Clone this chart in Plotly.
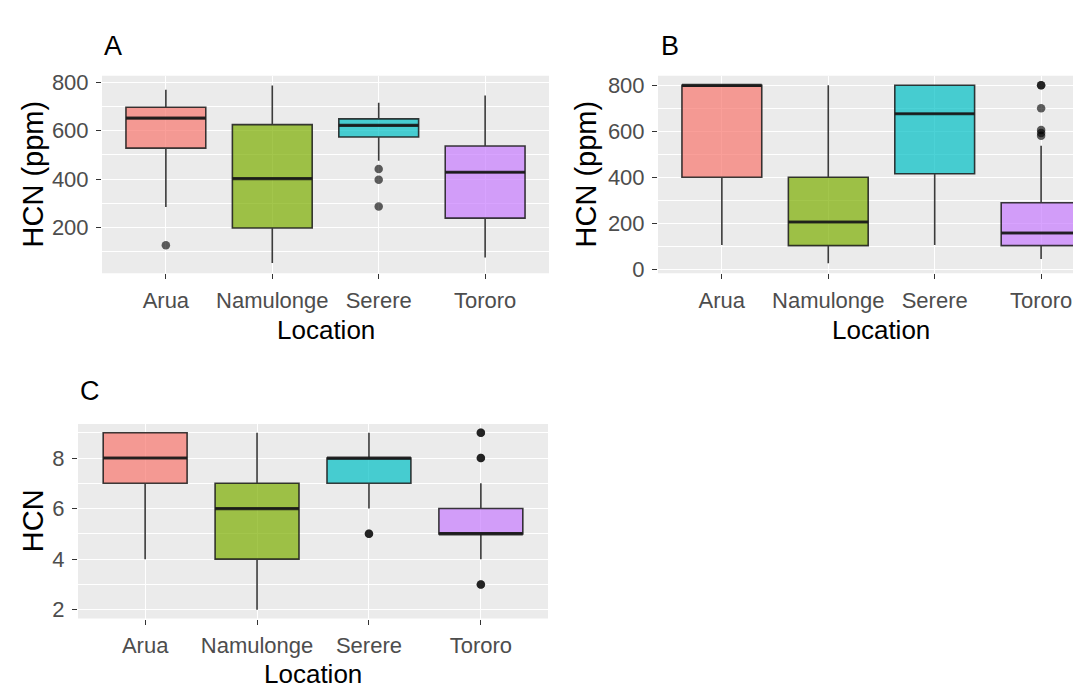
import plotly.graph_objects as go

locations = ["Arua", "Namulonge", "Serere", "Tororo"]
fills = ["rgba(248,118,109,0.7)", "rgba(124,174,0,0.7)", "rgba(0,191,196,0.7)", "rgba(199,124,255,0.7)"]

# Panel A : HCN (ppm)
a_low = [284, 52, 476, 75]
a_q1 = [528, 197, 574, 238]
a_med = [652, 402, 622, 428]
a_q3 = [697, 625, 649, 537]
a_high = [770, 787, 716, 746]
a_out = [[126], [], [441, 397, 286], []]

# Panel B : HCN (ppm)
b_low = [105, 25, 105, 44]
b_q1 = [400, 102, 415, 102]
b_med = [800, 205, 676, 157]
b_q3 = [800, 400, 800, 289]
b_high = [800, 800, 800, 537]
b_out = [[], [], [], [800, 800, 700, 605, 592, 580]]

# Panel C : HCN score
c_low = [4, 2, 6, 4]
c_q1 = [7, 4, 7, 5]
c_med = [8, 6, 8, 5]
c_q3 = [9, 7, 8, 6]
c_high = [9, 9, 9, 7]
c_out = [[], [], [5, 5], [9, 9, 8, 8, 3, 3]]

W, H = 1081, 689
FONT = "Liberation Sans, Arial, sans-serif"


def fx(px):
    return px / W


def fy(py):
    return 1 - py / H


panels = [
    dict(key="", low=a_low, q1=a_q1, med=a_med, q3=a_q3, high=a_high, out=a_out,
         xd=[94, 541], yd=[63, 265], yr=[10, 828], xr=[-0.6, 3.6],
         ticks=[200, 400, 600, 800], minor=100, ytitle="HCN (ppm)",
         letter="A", lx=94, ly=33, ytx=25, xtx=317.5, xty=323),
    dict(key="2", low=b_low, q1=b_q1, med=b_med, q3=b_q3, high=b_high, out=b_out,
         xd=[650, 1081], yd=[63, 265], yr=[-18, 842], xr=[-0.6, 3.45],
         ticks=[0, 200, 400, 600, 800], minor=100, ytitle="HCN (ppm)",
         letter="B", lx=651, ly=33, ytx=578, xtx=873, xty=323),
    dict(key="3", low=c_low, q1=c_q1, med=c_med, q3=c_q3, high=c_high, out=c_out,
         xd=[70, 540], yd=[419, 618], yr=[1.65, 9.35], xr=[-0.6, 3.6],
         ticks=[2, 4, 6, 8], minor=1, ytitle="HCN",
         letter="C", lx=70, ly=385, ytx=25, xtx=305, xty=675),
]

fig = go.Figure()
line_col = "rgba(25,25,25,0.85)"
bw = 0.75
annotations = []
layout = {}

for p in panels:
    k = p["key"]
    xa = "x" + k
    ya = "y" + k
    for i, loc in enumerate(locations):
        fig.add_trace(go.Box(
            x=[i], q1=[p["q1"][i]], median=[p["med"][i]], q3=[p["q3"][i]],
            lowerfence=[p["low"][i]], upperfence=[p["high"][i]],
            width=bw, whiskerwidth=0, fillcolor=fills[i],
            line=dict(color=line_col, width=1.6), boxpoints=False,
            xaxis=xa, yaxis=ya, showlegend=False, hoverinfo="skip"))
        fig.add_trace(go.Scatter(
            x=[i - bw / 2, i + bw / 2], y=[p["med"][i], p["med"][i]],
            mode="lines", line=dict(color=line_col, width=3.2),
            xaxis=xa, yaxis=ya, showlegend=False, hoverinfo="skip"))
        if p["out"][i]:
            fig.add_trace(go.Scatter(
                x=[i] * len(p["out"][i]), y=p["out"][i], mode="markers",
                marker=dict(color="rgba(0,0,0,0.62)", size=8.5, line=dict(width=0)),
                xaxis=xa, yaxis=ya, showlegend=False, hoverinfo="skip"))

    layout["xaxis" + k] = dict(
        domain=[fx(p["xd"][0]), fx(p["xd"][1])], anchor=ya, range=p["xr"],
        tickvals=[0, 1, 2, 3], ticktext=locations, showgrid=True,
        gridcolor="white", gridwidth=1.4, zeroline=False, ticks="outside",
        ticklen=5, tickwidth=1.2, tickcolor="#333333", ticklabelstandoff=2,
        tickfont=dict(family=FONT, size=22, color="#4D4D4D"),
        fixedrange=True)
    layout["yaxis" + k] = dict(
        domain=[fy(p["yd"][1]), fy(p["yd"][0])], anchor=xa, range=p["yr"],
        tickvals=p["ticks"], showgrid=True, gridcolor="white", gridwidth=1.4,
        zeroline=False, ticks="outside", ticklen=5, tickwidth=1.2, tickcolor="#333333",
        ticklabelstandoff=3,
        tickfont=dict(family=FONT, size=22, color="#4D4D4D"),
        minor=dict(dtick=p["minor"], tick0=0, showgrid=True, gridcolor="white", gridwidth=0.7),
        fixedrange=True)
    fig.add_shape(type="rect", xref="paper", yref="paper",
                  x0=fx(p["xd"][0]), x1=fx(p["xd"][1]), y0=fy(p["yd"][1]), y1=fy(p["yd"][0]),
                  fillcolor="#EBEBEB", line=dict(width=0), layer="below")
    annotations.append(dict(text=p["letter"], x=fx(p["lx"]), y=fy(p["ly"]), xref="paper", yref="paper",
                            xanchor="left", yanchor="middle", showarrow=False,
                            font=dict(family=FONT, size=27, color="black")))
    annotations.append(dict(text=p["ytitle"], x=fx(p["ytx"]), y=fy((p["yd"][0] + p["yd"][1]) / 2),
                            xref="paper", yref="paper", xanchor="center", yanchor="middle",
                            textangle=-90, showarrow=False,
                            font=dict(family=FONT, size=29, color="black")))
    annotations.append(dict(text="Location", x=fx(p["xtx"]), y=fy(p["xty"]), xref="paper", yref="paper",
                            xanchor="center", yanchor="middle", showarrow=False,
                            font=dict(family=FONT, size=26, color="black")))

fig.update_layout(width=W, height=H, margin=dict(l=0, r=0, t=0, b=0),
                  paper_bgcolor="white", plot_bgcolor="rgba(0,0,0,0)",
                  annotations=annotations, **layout)

fig.write_html("out.html")
